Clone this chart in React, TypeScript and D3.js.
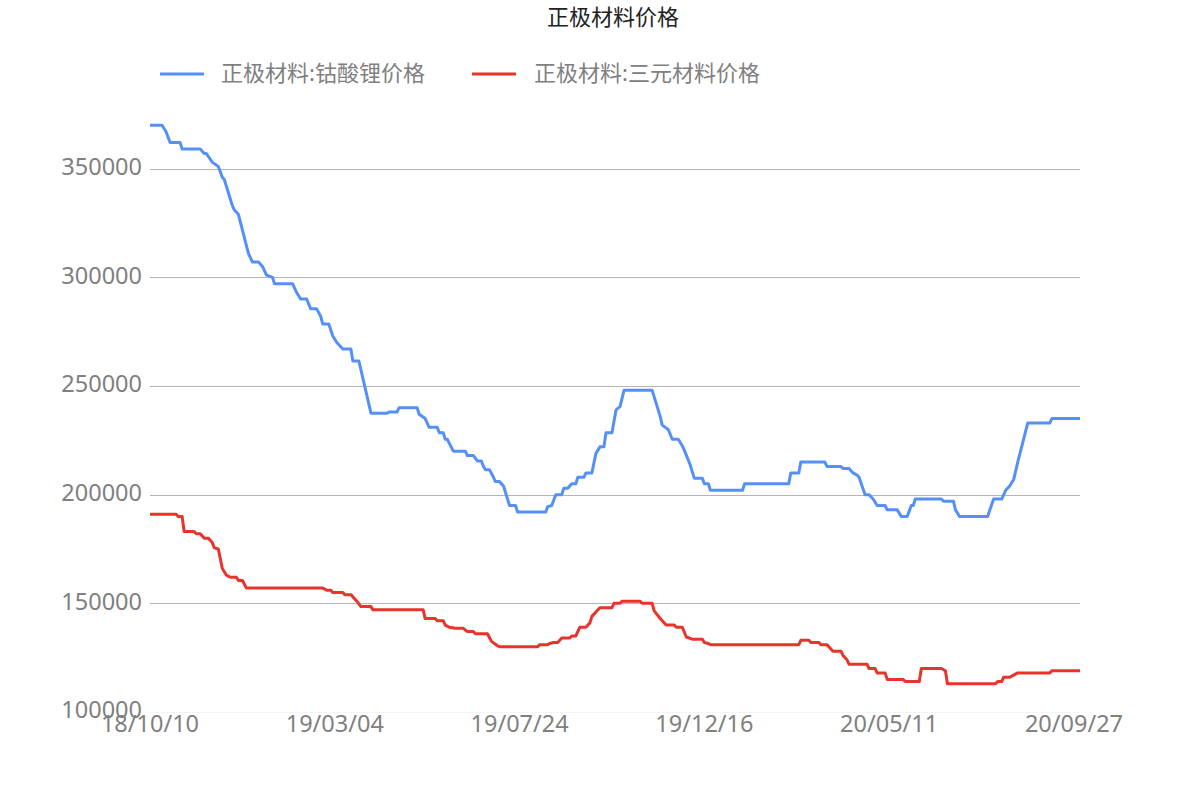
import React from "react";
import * as d3 from "d3";

const title = "正极材料价格";
const seriesNames = ["正极材料:钴酸锂价格", "正极材料:三元材料价格"];
const xTickLabels = ["18/10/10", "19/03/04", "19/07/24", "19/12/16", "20/05/11", "20/09/27"];
const xTickIndex = [0, 92, 184, 276, 368, 460];
const lastIndex = 463;
const yTicks = [100000, 150000, 200000, 250000, 300000, 350000];

// 钴酸锂 (index of trading day, price)
const licoIdx = [0, 6, 8, 10, 15, 16, 25, 27, 28, 31, 34, 36, 37, 41, 42, 44, 49, 51, 54, 56, 58, 61, 62, 71, 73, 75, 78, 80, 83, 85, 86, 89, 91, 93, 96, 100, 101, 104, 110, 118, 119, 123, 124, 133, 134, 137, 139, 143, 144, 146, 147, 148, 151, 157, 158, 161, 163, 165, 166, 167, 169, 171, 172, 174, 176, 179, 182, 183, 197, 198, 200, 202, 205, 206, 208, 210, 212, 213, 216, 217, 220, 222, 224, 226, 227, 230, 232, 234, 236, 250, 254, 255, 258, 260, 263, 265, 266, 269, 271, 275, 276, 278, 279, 295, 296, 318, 319, 323, 324, 336, 337, 344, 345, 348, 350, 352, 353, 356, 358, 360, 362, 366, 367, 372, 374, 377, 379, 380, 381, 394, 395, 400, 401, 403, 417, 420, 424, 426, 428, 430, 432, 437, 448, 449, 463];
const licoVal = [370000, 370000, 367000, 362000, 362000, 359000, 359000, 357000, 357000, 353000, 351000, 346000, 345000, 333000, 331000, 329000, 311000, 307000, 307000, 305000, 301000, 300000, 297000, 297000, 293000, 290000, 290000, 285500, 285500, 282000, 278500, 278500, 273000, 270000, 267000, 267000, 261500, 261500, 237500, 237500, 238000, 238000, 240000, 240000, 237000, 235000, 231000, 231000, 228500, 228500, 225500, 225500, 220000, 220000, 218000, 218000, 215500, 215500, 213000, 211500, 211500, 208000, 206000, 206000, 204000, 195000, 195000, 192000, 192000, 194500, 195000, 200000, 200000, 203000, 203000, 205000, 205000, 208000, 208000, 210000, 210000, 219000, 222000, 222000, 228500, 228500, 239000, 240500, 248000, 248000, 236000, 232000, 230000, 225500, 225500, 222500, 220500, 213500, 207500, 207500, 205000, 205000, 202000, 202000, 205000, 205000, 210000, 210000, 215000, 215000, 213000, 213000, 212000, 212000, 210000, 209000, 208000, 200000, 200000, 198000, 195000, 195000, 193000, 193000, 190000, 190000, 195000, 195000, 198000, 198000, 197000, 197000, 193000, 190000, 190000, 198000, 198000, 202000, 204000, 207000, 215000, 233000, 233000, 235000, 235000];

// 三元材料
const nmcIdx = [0, 13, 14, 16, 17, 22, 23, 25, 27, 29, 31, 32, 34, 36, 38, 40, 43, 44, 46, 48, 86, 88, 90, 91, 96, 97, 100, 103, 105, 110, 111, 136, 137, 142, 143, 146, 147, 149, 152, 156, 158, 161, 162, 168, 170, 173, 174, 193, 194, 198, 199, 201, 203, 205, 209, 210, 212, 214, 217, 219, 220, 222, 224, 230, 231, 234, 235, 244, 245, 250, 251, 254, 257, 261, 262, 265, 267, 270, 275, 276, 278, 279, 323, 324, 328, 329, 333, 334, 337, 340, 344, 345, 347, 348, 357, 358, 361, 362, 366, 367, 375, 376, 383, 384, 394, 396, 397, 421, 422, 424, 425, 428, 429, 432, 448, 449, 463];
const nmcVal = [191000, 191000, 190000, 190000, 183000, 183000, 182000, 182000, 180000, 180000, 178000, 175500, 175000, 166000, 163000, 162000, 162000, 160500, 160500, 157000, 157000, 156000, 156000, 155000, 155000, 154000, 154000, 151000, 148500, 148500, 147000, 147000, 143000, 143000, 142000, 142000, 140000, 139000, 138500, 138500, 137000, 137000, 136000, 136000, 132500, 130500, 130000, 130000, 131000, 131000, 131500, 132000, 132000, 134000, 134000, 135000, 135000, 139000, 139000, 141000, 144000, 146000, 148000, 148000, 150000, 150000, 151000, 151000, 150000, 150000, 146500, 143000, 140000, 140000, 139000, 139000, 134500, 133500, 133500, 132000, 131500, 131000, 131000, 133000, 133000, 132000, 132000, 131000, 131000, 128000, 128000, 126000, 124000, 122000, 122000, 120000, 120000, 118000, 118000, 115000, 115000, 114000, 114000, 120000, 120000, 119000, 113000, 113000, 114000, 114000, 116000, 116000, 116500, 118000, 118000, 119000, 119000];

const colors = ["#5590f7", "#e8342a"];

export default function App() {
  const width = 1200;
  const height = 800;
  const left = 150;
  const right = 1080;
  const bottom = 712;
  const pxPer50k = 108.67;

  const x = d3.scaleLinear().domain([0, lastIndex]).range([left, right]);
  const y = d3
    .scaleLinear()
    .domain([100000, 370000])
    .range([bottom, bottom - (270000 / 50000) * pxPer50k]);

  const line = d3
    .line<[number, number]>()
    .x((d) => x(d[0]))
    .y((d) => y(d[1]));

  const series = [
    licoIdx.map((i, k) => [i, licoVal[k]] as [number, number]),
    nmcIdx.map((i, k) => [i, nmcVal[k]] as [number, number]),
  ];

  const font = "'Noto Sans', 'Noto Sans CJK SC', sans-serif";

  return (
    <svg
      width={width}
      height={height}
      style={{ position: "absolute", left: 0, top: 0, background: "#fff" }}
      fontFamily={font}
    >
      <text x={613} y={19} textAnchor="middle" dominantBaseline="middle" fontSize={22} fill="#222">
        {title}
      </text>
      {/* legend */}
      <line x1={160} x2={204} y1={74} y2={74} stroke={colors[0]} strokeWidth={3} />
      <text x={221} y={75} dominantBaseline="middle" fontSize={22} fill="#808080">
        {seriesNames[0]}
      </text>
      <line x1={472} x2={516} y1={74} y2={74} stroke={colors[1]} strokeWidth={3} />
      <text x={534} y={75} dominantBaseline="middle" fontSize={22} fill="#808080">
        {seriesNames[1]}
      </text>

      {/* grid + y labels */}
      {yTicks.map((t) => (
        <g key={t}>
          <line
            x1={left}
            x2={right}
            y1={Math.round(y(t)) + 0.5}
            y2={Math.round(y(t)) + 0.5}
            stroke={t === 100000 ? "#f4f4f4" : "#b4b4b4"}
            strokeWidth={1}
          />
          <text x={142} y={y(t)} textAnchor="end" dominantBaseline="middle" fontSize={23.5} fill="#808080">
            {t}
          </text>
        </g>
      ))}

      {/* x labels */}
      {xTickIndex.map((i, k) => (
        <text key={i} x={x(i)} y={726} textAnchor="middle" dominantBaseline="middle" fontSize={23.5} fill="#808080">
          {xTickLabels[k]}
        </text>
      ))}

      {series.map((s, k) => (
        <path key={k} d={line(s) || ""} fill="none" stroke={colors[k]} strokeWidth={3} strokeLinejoin="round" />
      ))}
    </svg>
  );
}
